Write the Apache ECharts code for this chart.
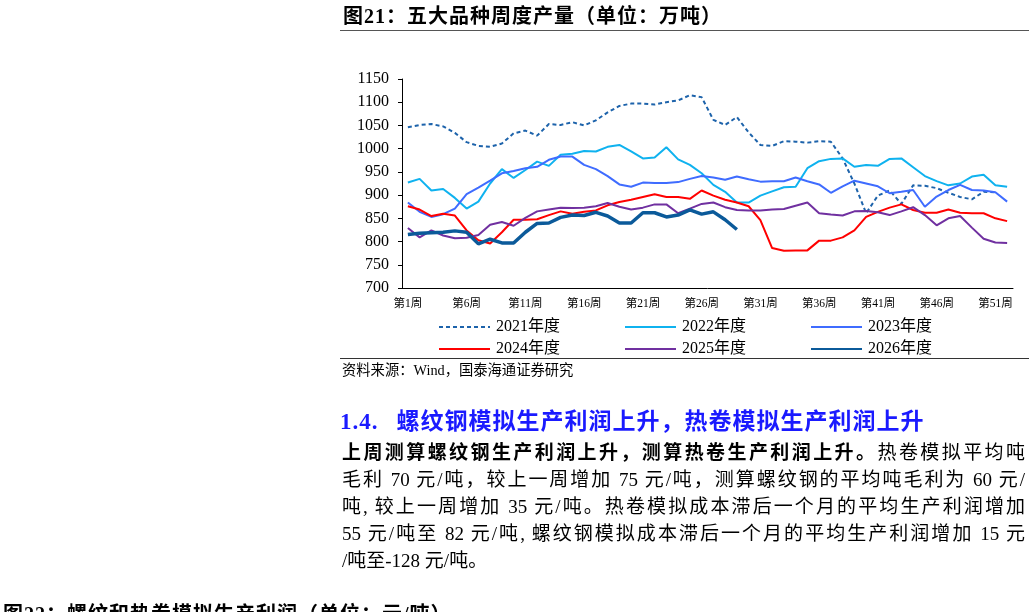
<!DOCTYPE html>
<html lang="zh">

<head>
    <meta charset="UTF-8">
    <title>五大品种周度产量</title>
    <script src="https://cdn.jsdelivr.net/npm/echarts@6/dist/echarts.min.js"></script>
    <style>
        body { margin: 0; width: 1029px; height: 612px; overflow: hidden; background: #fff;
               font-family: 'Liberation Serif', 'Noto Sans CJK SC', serif; color: #000; }
        .abs { position: absolute; white-space: nowrap; }
        #main { position: absolute; left: 0; top: 0; width: 1029px; height: 612px; }
        .para div { width: 683px; text-align: justify; text-align-last: justify; height: 27px; }
    </style>
</head>

<body>
    <div id="main"></div>

    <div class="abs" style="left:343px;top:3px;font-size:20px;font-weight:bold;line-height:26px;letter-spacing:1px;">图21：五大品种周度产量（单位：万吨）</div>
    <div class="abs" style="left:340px;right:0;top:30px;border-top:1.5px solid #555;"></div>

    <div class="abs" style="left:340px;right:0;top:358px;border-top:1.5px solid #333;"></div>
    <div class="abs" style="left:342px;top:360px;font-size:14.3px;line-height:20px;">资料来源：Wind，国泰海通证券研究</div>

    <div class="abs" style="left:340px;top:407px;font-size:23px;font-weight:bold;line-height:30px;color:#1a1aff;letter-spacing:1px;">1.4.<span style="display:inline-block;width:18px;"></span>螺纹钢模拟生产利润上升，热卷模拟生产利润上升</div>
    <div class="abs para" style="left:342px;top:439px;font-size:19px;line-height:27px;">
        <div><b>上周测算螺纹钢生产利润上升，测算热卷生产利润上升。</b>热卷模拟平均吨</div>
        <div>毛利 70 元/吨，较上一周增加 75 元/吨，测算螺纹钢的平均吨毛利为 60 元/</div>
        <div>吨, 较上一周增加 35 元/吨。热卷模拟成本滞后一个月的平均生产利润增加</div>
        <div>55 元/吨至 82 元/吨, 螺纹钢模拟成本滞后一个月的平均生产利润增加 15 元</div>
        <div style="text-align:left;text-align-last:left;">/吨至-128 元/吨。</div>
    </div>

    <div class="abs" style="left:3px;top:601px;font-size:20px;font-weight:bold;line-height:26px;letter-spacing:1px;">图22：螺纹和热卷模拟生产利润（单位：元/吨）</div>

    <script>
        // 周度产量，万吨
        var weeks = [];
        for (var i = 1; i <= 52; i++) weeks.push('第' + i + '周');

        var y2021 = [1046, 1051, 1053, 1048, 1034, 1014, 1006, 1004, 1011, 1033,
            1039, 1028, 1053, 1051, 1057, 1050, 1061, 1078, 1092, 1097,
            1097, 1095, 1100, 1104, 1115, 1111, 1062, 1051, 1068, 1035,
            1008, 1006, 1016, 1015, 1013, 1016, 1015, 979, 925, 861,
            899, 910, 881, 921, 920, 915, 905, 896, 891, 907,
            906, null];
        var y2022 = [927, 935, 910, 913, 894, 871, 886, 925, 956, 937,
            954, 972, 963, 987, 989, 995, 994, 1004, 1008, 994,
            979, 981, 1003, 977, 965, 947, 922, 907, 884, 884,
            899, 908, 917, 918, 958, 973, 978, 979, 961, 965,
            963, 978, 979, 960, 941, 930, 921, 925, 940, 944,
            921, 918];
        var y2023 = [884, 864, 853, 859, 871, 902, 916, 931, 947, 952,
            958, 961, 976, 983, 983, 965, 956, 941, 923, 918,
            927, 926, 926, 928, 935, 941, 938, 933, 940, 934,
            929, 930, 930, 938, 930, 923, 905, 919, 931, 925,
            919, 904, 907, 911, 875, 897, 911, 922, 911, 910,
            906, 886];
        var y2024 = [876, 869, 855, 860, 856, 824, 803, 796, 820, 847,
            847, 848, 857, 865, 860, 864, 867, 878, 885, 890,
            896, 902, 896, 896, 892, 910, 899, 890, 884, 876,
            846, 786, 780, 781, 781, 802, 802, 809, 824, 853,
            864, 873, 880, 868, 862, 862, 869, 862, 861, 861,
            850, 844];
        var y2025 = [829, 809, 824, 813, 807, 808, 814, 836, 842, 834,
            851, 865, 869, 873, 872, 873, 876, 883, 875, 869,
            873, 880, 880, 861, 871, 881, 884, 874, 868, 867,
            867, 869, 870, 877, 884, 861, 858, 856, 865, 866,
            863, 857, 865, 874, 857, 835, 850, 855, 830, 806,
            798, 797];
        var y2026 = [815, 818, 819, 820, 823, 820, 795, 805, 797, 797,
            820, 839, 840, 852, 857, 856, 863, 855, 840, 840,
            862, 862, 853, 857, 868, 859, 864, 847, 826];

        var chartDom = document.getElementById('main');
        var myChart = echarts.init(chartDom);
        var font = "'Liberation Serif', 'Noto Sans CJK SC', serif";

        function line(name, data, color, width, type) {
            return {
                name: name,
                type: 'line',
                data: data,
                symbol: 'none',
                connectNulls: false,
                lineStyle: { color: color, width: width, type: type || 'solid' },
                itemStyle: { color: color },
                emphasis: { disabled: true }
            };
        }

        var legendBase = {
            left: 433, itemWidth: 51, itemHeight: 12, itemGap: 64,
            itemStyle: { opacity: 0 },
            textStyle: { fontFamily: font, fontSize: 16, color: '#000', padding: [0, 0, 0, 1] }
        };

        var option = {
            animation: false,
            grid: { left: 402, top: 79, width: 611, height: 209 },
            legend: [
                Object.assign({ data: ['2021年度', '2022年度', '2023年度'], top: 314 }, legendBase),
                Object.assign({ data: ['2024年度', '2025年度', '2026年度'], top: 336 }, legendBase)
            ],
            xAxis: {
                type: 'category',
                data: weeks,
                boundaryGap: true,
                axisLine: { lineStyle: { color: '#000', width: 1 } },
                axisTick: { interval: 4, length: 4, lineStyle: { color: '#000' } },
                axisLabel: { interval: 4, margin: 10, fontFamily: font, fontSize: 11.5, color: '#000' },
                splitLine: { show: false }
            },
            yAxis: {
                type: 'value',
                min: 700,
                max: 1150,
                interval: 50,
                axisLine: { show: true, lineStyle: { color: '#000', width: 1 } },
                axisTick: { show: true, length: 4, lineStyle: { color: '#000' } },
                axisLabel: {
                    margin: 13, fontFamily: font, fontSize: 16, color: '#000',
                    formatter: function (v) { return String(v); }
                },
                splitLine: { show: false }
            },
            series: [
                line('2021年度', y2021, '#1d63ab', 2, [4, 3]),
                line('2022年度', y2022, '#0fb2ef', 2),
                line('2023年度', y2023, '#3f6cff', 2),
                line('2024年度', y2024, '#ff0000', 2),
                line('2025年度', y2025, '#7030a0', 2),
                line('2026年度', y2026, '#0b5a9a', 3.5)
            ]
        };

        myChart.setOption(option);
    </script>
</body>

</html>
